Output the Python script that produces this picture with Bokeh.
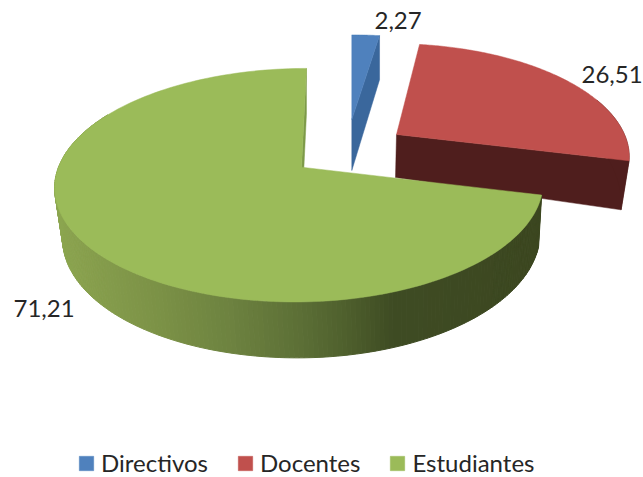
import numpy as np
from bokeh.core.properties import value
from bokeh.embed import file_html
from bokeh.models import Legend, LegendItem, Range1d
from bokeh.plotting import figure
from bokeh.resources import INLINE

# --- data ---
categories = ["Directivos", "Docentes", "Estudiantes"]
shares = [2.27, 26.51, 71.21]
share_labels = ["2,27", "26,51", "71,21"]

# --- styles / layout ---
top_colors = ["#4f81bd", "#c0504d", "#9bbb59"]
side_colors = ["#3a679c", "#4f1e1d", "#7d9a48"]
FONT = "Lato"
label_pos = [(374, 20), (581, 74), (13, 308)]

# perspective description of every exploded slice
geom = [
    dict(ax=351.3, ay=119, rxr=228, rxl=228, R=99, k=.17, s=0.0, d=51, g=.16, vx=351, e=0.0),
    dict(ax=396, ay=134, rxr=228, rxl=228, R=107, k=.178, s=.05, d=43, g=.57, vx=363, e=.03),
    dict(ax=301, ay=166.7, rxr=239.5, rxl=243, R=114, k=.154, s=-.05, d=50, g=.10, vx=408, e=.0226),
]
wall_x = [55, 70, 160, 230, 300, 350, 390, 545]
wall_r = [0x8c, 0x8a, 0x7b, 0x6d, 0x5c, 0x4d, 0x3f, 0x3c]
wall_g = [0xa6, 0xa2, 0x91, 0x82, 0x6f, 0x5e, 0x4c, 0x47]
wall_b = [0x50, 0x4f, 0x46, 0x40, 0x36, 0x2c, 0x24, 0x20]

total = sum(shares)
edges = np.radians(np.concatenate([[0], np.cumsum(shares)]) / total * 360)


def rim(g, th):
    den = 1 + g["k"] * np.cos(th)
    dy = -g["R"] * np.cos(th) / den
    rx = np.where(np.sin(th) >= 0, g["rxr"], g["rxl"])
    dx = rx * np.sin(th) / den + g["s"] * dy
    return g["ax"] + dx, g["ay"] + dy


def lower(g, x, y, e=None):
    rel = (np.asarray(y, float) - g["ay"]) / g["R"]
    x = np.asarray(x, float)
    e = g["e"] if e is None else e
    return x + (g["vx"] - x) * e, y + g["d"] * (1 + g["g"] * rel)


def hexcol(x):
    return "#%02x%02x%02x" % (
        int(np.interp(x, wall_x, wall_r)),
        int(np.interp(x, wall_x, wall_g)),
        int(np.interp(x, wall_x, wall_b)),
    )


p = figure(
    width=643, height=477, x_range=Range1d(0, 643), y_range=Range1d(477, 0),
    x_axis_type=None, y_axis_type=None, toolbar_location=None,
    output_backend="svg", min_border=0, outline_line_color=None,
)
p.grid.visible = False

tops = {}
for i in [1, 0, 2]:
    g = geom[i]
    a0, a1 = edges[i], edges[i + 1]
    th = np.linspace(a0, a1, 160)
    xs, ys = rim(g, th)

    # cut faces and outer wall
    ox, oy = rim(g, a1 - 1e-6)
    bx, by = lower(g, [g["ax"], ox], [g["ay"], oy], e=0.0 if i == 2 else None)
    p.patch([g["ax"], ox, bx[1], bx[0]], [g["ay"], oy, by[1], by[0]],
            fill_color=side_colors[i], line_color=side_colors[i], line_width=.5)
    if i == 2:
        seg = np.radians(np.arange(np.degrees(a0), 300, 1.0))
        sx, sy = rim(g, seg)
        bx, by = lower(g, sx, sy)
        px, py, cols = [], [], []
        for j in range(len(seg) - 1):
            px.append([sx[j], sx[j + 1], bx[j + 1], bx[j]])
            py.append([sy[j], sy[j + 1], by[j + 1], by[j]])
            cols.append(hexcol((sx[j] + sx[j + 1]) / 2))
        p.patches(px, py, fill_color=cols, line_color=cols, line_width=1)
    elif i == 1:
        seg = np.radians(np.linspace(70, np.degrees(a1), 40))
        sx, sy = rim(g, seg)
        bx, by = lower(g, sx, sy)
        p.patch(np.concatenate([sx, bx[::-1]]), np.concatenate([sy, by[::-1]]),
                fill_color=side_colors[i], line_color=side_colors[i], line_width=.5)

    tops[i] = p.patch(
        np.concatenate([[g["ax"]], xs]), np.concatenate([[g["ay"]], ys]),
        fill_color=top_colors[i], line_color=top_colors[i], line_width=.5,
    )

# data labels
p.text(
    [q[0] for q in label_pos], [q[1] for q in label_pos], text=share_labels,
    text_font=value(FONT), text_font_size="24px", text_color="#262626",
    text_baseline="middle", text_align="left",
)

legend = Legend(
    items=[LegendItem(label=c, renderers=[tops[i]]) for i, c in enumerate(categories)],
    orientation="horizontal", location=(77, 0), spacing=28, padding=0, margin=0,
    glyph_width=18, glyph_height=18, label_standoff=6,
    label_text_font=FONT, label_text_font_size="24px", label_text_color="#262626",
    border_line_color=None, background_fill_alpha=0,
)
p.add_layout(legend, "center")

open("out.html", "w").write(file_html(p, INLINE))
